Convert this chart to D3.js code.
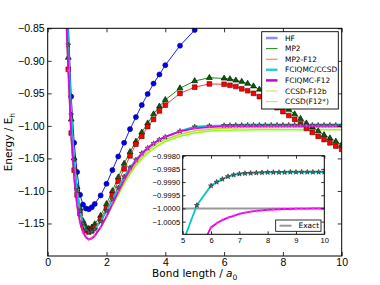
<!DOCTYPE html>
<html><head><meta charset="utf-8">
<script src="https://cdn.jsdelivr.net/npm/d3@7"></script>
<style>
html,body{margin:0;padding:0;background:#fff;}
svg{display:block;font-family:"DejaVu Sans",sans-serif;}
</style></head>
<body><svg id="c" width="380" height="285"></svg>
<script>
// ---------------- data ----------------
const bond = [0.6,0.7,0.8,0.9,1.0,1.1,1.2,1.3,1.4,1.5,1.6,1.8,2.0,2.2,2.4,2.6,2.8,3.0,3.2,3.4,3.6,3.8,4.0,4.5,5.0,5.5,
  6.0,6.2,6.4,6.6,6.8,7.0,7.2,7.4,7.6,7.8,8.0,8.2,8.4,8.6,8.8,9.0,9.2,9.4,9.6,9.8,10.0];
const hf = [-0.72,-0.84,-0.955,-1.026,-1.071,-1.106,-1.121,-1.127,-1.128,-1.125,-1.120,-1.107,-1.089,-1.068,-1.047,-1.026,-1.005,-0.9865,-0.968,-0.951,-0.935,-0.921,-0.9067,-0.8767,-0.8526,-0.832,
  -0.814,-0.808,-0.802,-0.797,-0.792,-0.787,-0.782,-0.778,-0.774,-0.770,-0.766,-0.763,-0.760,-0.757,-0.754,-0.751,-0.748,-0.746,-0.744,-0.742,-0.740];
const mp2 = [-0.78,-0.895,-0.99,-1.05,-1.094,-1.127,-1.146,-1.155,-1.158,-1.156,-1.151,-1.138,-1.120,-1.100,-1.079,-1.058,-1.040,-1.024,-1.010,-0.996,-0.982,-0.970,-0.960,-0.942,-0.931,-0.926,
  -0.927,-0.928,-0.930,-0.932,-0.935,-0.939,-0.944,-0.949,-0.955,-0.961,-0.968,-0.975,-0.982,-0.989,-0.996,-1.002,-1.008,-1.014,-1.019,-1.024,-1.029];
const mp2f12 = [-0.80,-0.913,-1.011,-1.068,-1.106,-1.135,-1.152,-1.161,-1.163,-1.161,-1.156,-1.143,-1.126,-1.106,-1.085,-1.066,-1.046,-1.028,-1.016,-1.001,-0.990,-0.977,-0.968,-0.950,-0.9405,-0.9355,
  -0.936,-0.9375,-0.9395,-0.943,-0.946,-0.950,-0.955,-0.960,-0.966,-0.972,-0.978,-0.984,-0.990,-0.997,-1.004,-1.010,-1.016,-1.021,-1.026,-1.031,-1.036];
const fciqmc = [-0.76,-0.8755,-0.983,-1.052,-1.100,-1.131,-1.150,-1.160,-1.1634,-1.1625,-1.159,-1.147,-1.131,-1.113,-1.095,-1.078,-1.064,-1.052,-1.042,-1.034,-1.027,-1.021,-1.017,-1.008,-1.0013,-0.99988,
  -0.99914,-0.99900,-0.99889,-0.99879,-0.99873,-0.99869,-0.99867,-0.99866,-0.99865,-0.99864,-0.99863,-0.99863,-0.99863,-0.99863,-0.99862,-0.99862,-0.99862,-0.99862,-0.99862,-0.99862,-0.99862];
const fciqmcF12 = [-0.80,-0.915,-1.016,-1.080,-1.122,-1.148,-1.163,-1.171,-1.1745,-1.173,-1.169,-1.156,-1.139,-1.120,-1.101,-1.083,-1.067,-1.054,-1.043,-1.034,-1.027,-1.021,-1.017,-1.0085,-1.0038,-1.0018,
  -1.00072,-1.00056,-1.00044,-1.00035,-1.00028,-1.00021,-1.00016,-1.00012,-1.00009,-1.00007,-1.00005,-1.00004,-1.00003,-1.00002,-1.00002,-1.00001,-1.00001,-1.00001,-1.0,-1.0,-1.0];
const ccsdF12b = [-0.80,-0.916,-1.018,-1.082,-1.123,-1.149,-1.164,-1.171,-1.1740,-1.172,-1.168,-1.156,-1.139,-1.121,-1.103,-1.086,-1.071,-1.058,-1.047,-1.038,-1.031,-1.025,-1.021,-1.013,-1.008,-1.005,
  -1.0035,-1.0033,-1.0031,-1.0030,-1.0029,-1.0028,-1.0028,-1.0027,-1.0027,-1.0027,-1.0026,-1.0026,-1.0026,-1.0026,-1.0026,-1.0026,-1.0026,-1.0026,-1.0026,-1.0026,-1.0026];
const ccsdF12s = [-0.80,-0.917,-1.019,-1.083,-1.124,-1.150,-1.165,-1.172,-1.1750,-1.173,-1.169,-1.157,-1.141,-1.123,-1.106,-1.089,-1.074,-1.061,-1.050,-1.042,-1.035,-1.029,-1.024,-1.016,-1.011,-1.008,
  -1.0068,-1.0066,-1.0064,-1.0063,-1.0062,-1.0061,-1.0061,-1.0060,-1.0060,-1.0060,-1.0060,-1.0059,-1.0059,-1.0059,-1.0059,-1.0059,-1.0059,-1.0059,-1.0059,-1.0059,-1.0059];
const exactEnergy = -1.0;

const xTicks = [0,2,4,6,8,10];
const yTicks = [-0.85,-0.90,-0.95,-1.00,-1.05,-1.10,-1.15];
const insetXTicks = [5,6,7,8,9,10];
const insetYTicks = [-0.9980,-0.9985,-0.9990,-0.9995,-1.0000,-1.0005];
const legendLabels = ["HF","MP2","MP2-F12","FCIQMC/CCSD","FCIQMC-F12","CCSD-F12b","CCSD(F12*)"];

// ---------------- drawing ----------------
const svg = d3.select("#c");
const M = {l:47.7, r:341.7, t:28.3, b:256};
const x = d3.scaleLinear().domain([0,10]).range([M.l,M.r]);
const y = d3.scaleLinear().domain([-1.2,-0.85]).range([M.b,M.t]);
const minus = s => s.replace("-","\u2212");

svg.append("defs").append("clipPath").attr("id","clipMain")
  .append("rect").attr("x",M.l).attr("y",M.t).attr("width",M.r-M.l).attr("height",M.b-M.t);

const plot = svg.append("g").attr("clip-path","url(#clipMain)");

const plusType = {draw(ctx,size){const r=Math.sqrt(size)/2;ctx.moveTo(-r,0);ctx.lineTo(r,0);ctx.moveTo(0,-r);ctx.lineTo(0,r);}};

const allSeries = [
  {v:ccsdF12s, color:"#7fff00", w:1.5, op:0.9},
  {v:ccsdF12b, color:"#c8c832", w:1.5, op:0.9},
  {v:hf, color:"#0000ff", w:0.9, op:1, sym:d3.symbolCircle, size:20, fill:"#0000ee", stroke:"#000080"},
  {v:mp2, color:"#008000", w:0.9, op:1, sym:d3.symbolTriangle, size:15, fill:"#006400", stroke:"#000"},
  {v:mp2f12, color:"#ff2020", w:0.9, op:1, sym:d3.symbolSquare, size:22, fill:"#ff0000", stroke:"#600"},
  {v:fciqmc, color:"#00c8c8", w:1.8, op:1, sym:d3.symbolStar, size:8, fill:"#557777", stroke:"#222"},
  {v:fciqmcF12, color:"#e000e0", w:1.8, op:1, sym:plusType, size:12, fill:"none", stroke:"#ff40ff"}
];

function drawSeries(g, list, xs, ys, filter){
  list.forEach(s=>{
    const pts = bond.map((b,i)=>[b,s.v[i]]).filter(filter);
    g.append("path").datum(pts)
      .attr("d", d3.line().x(d=>xs(d[0])).y(d=>ys(d[1])))
      .attr("fill","none").attr("stroke",s.color).attr("stroke-width",s.w).attr("opacity",s.op);
    if(s.sym){
      g.selectAll(null).data(pts).enter().append("path")
        .attr("d", d3.symbol().type(s.sym).size(s.size))
        .attr("transform", d=>`translate(${xs(d[0])},${ys(d[1])})`)
        .attr("fill", s.fill).attr("stroke", s.stroke).attr("stroke-width",0.6);
    }
  });
}
drawSeries(plot, allSeries, x, y, d=>true);

// axes (ticks inward, all four sides)
function styleAxis(g, fs){
  g.select(".domain").remove();
  g.selectAll(".tick line").attr("stroke","#000").attr("stroke-width",0.8);
  g.selectAll(".tick text").attr("font-size",fs).attr("fill","#000");
}
const ax = svg.append("g").attr("transform",`translate(0,${M.b})`)
  .call(d3.axisBottom(x).tickValues(xTicks).tickSize(-4).tickPadding(3).tickFormat(d3.format("d")));
styleAxis(ax,10.5);
const axt = svg.append("g").attr("transform",`translate(0,${M.t})`)
  .call(d3.axisTop(x).tickValues(xTicks).tickSize(-4).tickFormat(""));
styleAxis(axt,10);
const ay = svg.append("g").attr("transform",`translate(${M.l},0)`)
  .call(d3.axisLeft(y).tickValues(yTicks).tickSize(-4).tickPadding(3).tickFormat(d=>minus(d3.format(".2f")(d))));
styleAxis(ay,10.5);
const ayr = svg.append("g").attr("transform",`translate(${M.r},0)`)
  .call(d3.axisRight(y).tickValues(yTicks).tickSize(-4).tickFormat(""));
styleAxis(ayr,10);
svg.append("rect").attr("x",M.l).attr("y",M.t).attr("width",M.r-M.l).attr("height",M.b-M.t)
  .attr("fill","none").attr("stroke","#000").attr("stroke-width",1);

// axis labels
const xl = svg.append("text").attr("x",(M.l+M.r)/2).attr("y",277).attr("text-anchor","middle").attr("font-size",10.5);
xl.append("tspan").text("Bond length / ");
xl.append("tspan").attr("font-style","italic").text("a");
xl.append("tspan").attr("font-size",7.5).attr("dy",2.5).text("0");
const yl = svg.append("text").attr("transform",`translate(12,${(M.t+M.b)/2}) rotate(-90)`).attr("text-anchor","middle").attr("font-size",10.5);
yl.append("tspan").text("Energy / E");
yl.append("tspan").attr("font-size",7.5).attr("dy",2.5).text("h");

// legend
const L = {x:261.7, y:31.7, w:76.6, h:77.3};
const lg = svg.append("g");
lg.append("rect").attr("x",L.x).attr("y",L.y).attr("width",L.w).attr("height",L.h).attr("fill","#fff").attr("stroke","#000").attr("stroke-width",0.9);
const legStyle = [
  {c:"#8c8cff", w:2.5}, {c:"#1a8c1a", w:1}, {c:"#ff6060", w:1},
  {c:"#33cccc", w:2.5}, {c:"#cc00cc", w:2.5}, {c:"#d6d655", w:1}, {c:"#99ff33", w:1}
];
legendLabels.forEach((t,i)=>{
  const yy = 38 + i*10.6;
  lg.append("line").attr("x1",266).attr("x2",277.5).attr("y1",yy).attr("y2",yy)
    .attr("stroke",legStyle[i].c).attr("stroke-width",legStyle[i].w);
  lg.append("text").attr("x",285).attr("y",yy+2.6).attr("font-size",7.4).text(t);
});

// ---------------- inset ----------------
const I = {l:182.7, r:324.3, t:155.7, b:234.3};
const xi = d3.scaleLinear().domain([5,10]).range([I.l,I.r]);
const yi = d3.scaleLinear().domain([-1.00098,-0.99800]).range([I.b,I.t]);
svg.append("rect").attr("x",I.l).attr("y",I.t).attr("width",I.r-I.l).attr("height",I.b-I.t).attr("fill","#fff");
svg.append("defs").append("clipPath").attr("id","clipIn")
  .append("rect").attr("x",I.l).attr("y",I.t).attr("width",I.r-I.l).attr("height",I.b-I.t);
const ig = svg.append("g").attr("clip-path","url(#clipIn)");
ig.append("line").attr("x1",I.l).attr("x2",I.r).attr("y1",yi(exactEnergy)).attr("y2",yi(exactEnergy))
  .attr("stroke","#999").attr("stroke-width",2);
drawSeries(ig, [allSeries[5], allSeries[6]], xi, yi, d=>d[0]>=4.5);

const iax = svg.append("g").attr("transform",`translate(0,${I.b})`)
  .call(d3.axisBottom(xi).tickValues(insetXTicks).tickSize(-3).tickPadding(3).tickFormat(d3.format("d")));
styleAxis(iax,7.6);
const iaxt = svg.append("g").attr("transform",`translate(0,${I.t})`)
  .call(d3.axisTop(xi).tickValues(insetXTicks).tickSize(-3).tickFormat(""));
styleAxis(iaxt,7);
const iay = svg.append("g").attr("transform",`translate(${I.l},0)`)
  .call(d3.axisLeft(yi).tickValues(insetYTicks).tickSize(-3).tickPadding(2.5).tickFormat(d=>minus(d3.format(".4f")(d))));
styleAxis(iay,7.6);
const iayr = svg.append("g").attr("transform",`translate(${I.r},0)`)
  .call(d3.axisRight(yi).tickValues(insetYTicks).tickSize(-3).tickFormat(""));
styleAxis(iayr,7);
svg.append("rect").attr("x",I.l).attr("y",I.t).attr("width",I.r-I.l).attr("height",I.b-I.t)
  .attr("fill","none").attr("stroke","#000").attr("stroke-width",1);

// inset legend
const il = svg.append("g");
il.append("rect").attr("x",275.7).attr("y",220).attr("width",45.3).attr("height",11.3).attr("fill","#fff").attr("stroke","#000").attr("stroke-width",0.8);
il.append("line").attr("x1",279.5).attr("x2",291.5).attr("y1",225.7).attr("y2",225.7).attr("stroke","#999").attr("stroke-width",2);
il.append("text").attr("x",298.5).attr("y",228.3).attr("font-size",7.4).text("Exact");
</script></body></html>
